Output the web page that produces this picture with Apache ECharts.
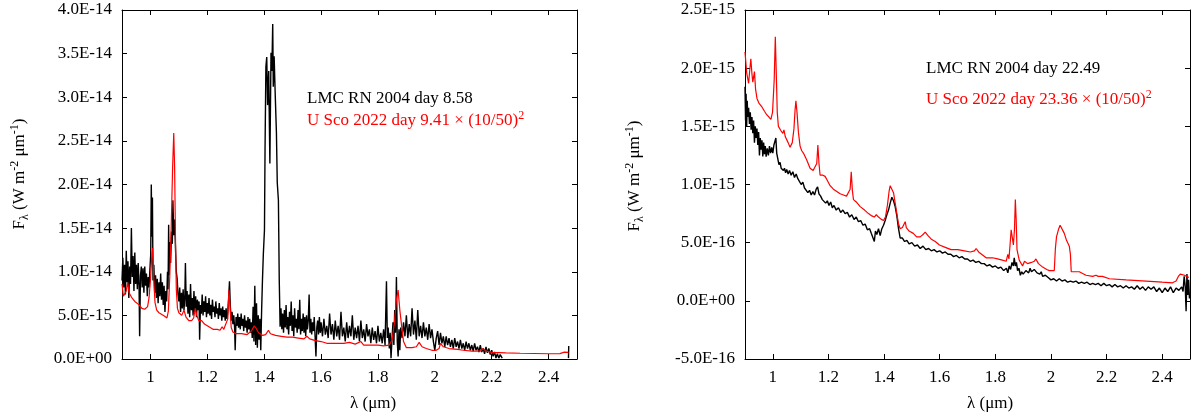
<!DOCTYPE html>
<html>
<head>
<meta charset="utf-8">
<script src="https://cdn.jsdelivr.net/npm/echarts@6/dist/echarts.min.js"></script>
<style>
  html, body { margin: 0; padding: 0; background: #fff; }
  #chart { width: 1194px; height: 417px; }
</style>
</head>
<body>
<div id="chart"></div>
<script>
// wavelengths in micron, fluxes in units of 1e-15 W m^-2 um^-1
const xTicks = [1, 1.2, 1.4, 1.6, 1.8, 2, 2.2, 2.4]

// left panel: LMC RN 2004 day 8.58
const lmcDay858 = [
  [0.900,9.0],[0.903,11.6],[0.906,8.2],[0.909,10.8],[0.912,7.4],[0.915,12.4],[0.918,8.8],[0.921,11.2],[0.924,7.0],[0.927,10.6],
  [0.930,8.6],[0.933,15.0],[0.936,9.4],[0.939,11.8],[0.942,7.8],[0.945,12.2],[0.948,8.6],[0.951,10.8],[0.954,8.0],[0.957,11.0],
  [0.960,8.4],[0.962,2.6],[0.965,9.6],[0.968,10.6],[0.971,8.2],[0.974,10.4],[0.977,7.6],[0.980,10.6],[0.983,8.4],[0.986,9.8],
  [0.989,7.2],[0.992,9.4],[0.995,8.2],[0.998,10.2],[1.001,12.0],[1.003,20.0],[1.005,14.0],[1.007,18.5],[1.009,9.0],[1.012,10.8],
  [1.015,7.6],[1.018,9.6],[1.021,7.0],[1.024,9.2],[1.027,6.4],[1.030,8.8],[1.033,7.2],[1.036,9.8],[1.039,6.8],[1.042,8.8],
  [1.045,6.2],[1.048,8.4],[1.051,5.4],[1.054,7.8],[1.057,6.6],[1.060,10.0],[1.062,8.0],[1.064,15.4],[1.066,9.6],[1.068,13.4],
  [1.071,11.0],[1.074,14.6],[1.077,13.2],[1.079,18.2],[1.082,14.2],[1.085,16.0],[1.088,12.8],[1.091,10.0],[1.094,9.2],[1.097,7.4],
  [1.100,6.6],[1.103,8.2],[1.106,5.4],[1.109,7.6],[1.112,5.8],[1.115,8.0],[1.118,5.6],[1.121,7.2],[1.123,11.0],[1.126,6.0],
  [1.129,7.8],[1.132,5.2],[1.135,7.4],[1.138,4.8],[1.141,8.6],[1.144,5.6],[1.147,7.0],[1.150,5.0],[1.153,7.8],[1.156,5.4],
  [1.159,7.2],[1.162,4.8],[1.165,6.8],[1.168,5.6],[1.171,6.6],[1.173,2.2],[1.176,6.2],[1.179,5.2],[1.182,7.4],[1.185,5.0],
  [1.188,6.6],[1.191,5.4],[1.194,7.2],[1.197,4.8],[1.200,6.4],[1.203,5.2],[1.206,7.0],[1.209,5.0],[1.212,6.2],[1.215,4.6],
  [1.218,6.8],[1.221,5.4],[1.224,6.0],[1.227,4.8],[1.230,6.6],[1.233,5.2],[1.236,5.8],[1.239,4.6],[1.242,6.4],[1.245,5.0],
  [1.248,5.8],[1.251,4.4],[1.254,6.0],[1.257,4.8],[1.260,5.6],[1.263,4.4],[1.266,5.8],[1.269,4.6],[1.272,5.4],[1.275,7.0],
  [1.278,8.9],[1.281,6.0],[1.284,4.4],[1.287,5.4],[1.290,4.0],[1.293,5.0],[1.296,3.6],[1.298,1.0],[1.301,4.8],[1.304,3.8],
  [1.307,5.2],[1.310,3.6],[1.313,4.8],[1.316,3.4],[1.319,5.2],[1.322,3.8],[1.325,4.6],[1.328,3.2],[1.331,5.0],[1.334,3.6],
  [1.337,4.4],[1.340,3.0],[1.343,4.8],[1.346,3.4],[1.349,4.6],[1.352,3.0],[1.355,4.2],[1.358,2.4],[1.361,6.0],[1.364,2.0],
  [1.367,8.4],[1.370,1.6],[1.373,6.4],[1.376,1.3],[1.379,5.0],[1.382,2.2],[1.385,4.6],[1.388,1.0],[1.391,5.6],[1.394,9.1],
  [1.397,12.0],[1.401,14.8],[1.403,24.0],[1.406,33.5],[1.409,34.6],[1.412,29.1],[1.416,33.0],[1.420,22.4],[1.424,35.1],[1.427,33.0],
  [1.430,38.4],[1.432,31.2],[1.435,34.7],[1.439,30.1],[1.443,26.0],[1.446,20.2],[1.450,18.2],[1.453,9.0],[1.456,3.7],[1.459,5.8],
  [1.462,3.4],[1.465,5.2],[1.468,3.0],[1.471,5.6],[1.474,3.6],[1.477,6.2],[1.480,3.4],[1.483,4.8],[1.486,2.8],[1.489,5.4],
  [1.492,3.8],[1.495,6.6],[1.498,3.2],[1.501,5.0],[1.504,2.6],[1.507,5.8],[1.510,3.6],[1.513,4.6],[1.516,3.0],[1.519,5.6],
  [1.522,3.4],[1.525,6.8],[1.528,2.8],[1.531,4.6],[1.534,3.2],[1.537,5.2],[1.540,3.0],[1.543,4.8],[1.546,2.6],[1.549,5.0],
  [1.552,3.4],[1.555,4.4],[1.558,7.4],[1.561,3.0],[1.564,4.6],[1.567,2.8],[1.570,4.2],[1.573,3.2],[1.576,4.8],[1.579,2.6],
  [1.582,0.3],[1.585,3.6],[1.588,4.4],[1.591,2.8],[1.594,4.8],[1.597,3.0],[1.600,4.2],[1.605,2.6],[1.610,4.6],[1.615,2.8],
  [1.620,3.8],[1.625,2.4],[1.630,5.2],[1.635,2.8],[1.640,4.0],[1.645,2.2],[1.650,4.4],[1.655,2.6],[1.660,3.8],[1.665,2.2],
  [1.670,5.4],[1.675,2.6],[1.680,3.6],[1.685,2.0],[1.690,4.2],[1.695,2.4],[1.700,3.8],[1.705,2.6],[1.710,5.0],[1.715,2.2],
  [1.720,3.6],[1.725,2.4],[1.730,3.8],[1.735,2.0],[1.740,4.4],[1.745,2.4],[1.750,3.4],[1.755,2.0],[1.760,4.0],[1.765,2.6],
  [1.770,3.4],[1.775,1.8],[1.780,3.6],[1.785,2.2],[1.790,3.2],[1.795,1.8],[1.800,3.8],[1.805,2.0],[1.810,3.0],[1.815,1.8],
  [1.820,3.4],[1.825,1.6],[1.830,8.9],[1.833,2.4],[1.836,3.6],[1.840,1.2],[1.843,3.0],[1.846,0.1],[1.850,2.6],[1.853,4.2],
  [1.856,1.6],[1.859,5.6],[1.862,3.0],[1.865,9.4],[1.868,2.0],[1.871,0.3],[1.874,3.4],[1.877,1.0],[1.880,3.6],[1.885,2.4],
  [1.890,4.2],[1.895,2.6],[1.900,5.0],[1.905,2.4],[1.910,4.0],[1.915,2.6],[1.920,5.8],[1.925,2.8],[1.930,4.4],[1.935,2.2],
  [1.940,5.6],[1.945,2.6],[1.950,3.8],[1.955,2.4],[1.960,4.2],[1.965,2.6],[1.970,3.6],[1.975,2.2],[1.980,4.0],[1.985,2.4],
  [1.990,3.4],[1.995,2.0],[2.000,1.0],[2.005,2.4],[2.010,3.2],[2.015,1.6],[2.020,3.0],[2.025,1.8],[2.030,2.6],[2.035,1.4],
  [2.040,2.6],[2.045,1.6],[2.050,2.4],[2.055,1.4],[2.060,2.2],[2.065,1.2],[2.070,2.4],[2.075,1.4],[2.080,2.0],[2.085,1.2],
  [2.090,2.2],[2.095,1.2],[2.100,1.8],[2.105,1.0],[2.110,2.0],[2.115,1.2],[2.120,1.8],[2.125,1.0],[2.130,1.6],[2.135,0.9],
  [2.140,1.8],[2.145,1.0],[2.150,1.4],[2.155,0.8],[2.160,1.6],[2.165,0.8],[2.170,1.2],[2.175,0.6],[2.180,1.4],[2.185,0.7],
  [2.190,1.2],[2.195,0.5],[2.200,1.0],[2.205,0.3],[2.210,0.8],[2.215,0.1],[2.220,0.6],[2.225,0.1],[2.230,0.5],[2.237,0.1],
  [2.350,'-'],[2.470,0.1],[2.471,1.5]
]

// left panel: U Sco 2022 day 9.41, scaled by (10/50)^2
const usco941 = [
  [0.900,8.6],[0.905,7.2],[0.910,7.0],[0.915,7.8],[0.920,8.8],[0.925,7.6],[0.930,7.4],[0.935,7.0],[0.940,7.2],[0.945,6.6],
  [0.950,6.4],[0.960,6.2],[0.970,5.8],[0.980,5.7],[0.990,6.0],[0.995,7.0],[1.000,9.0],[1.005,12.0],[1.008,12.7],[1.012,9.0],
  [1.016,6.5],[1.022,5.6],[1.030,5.3],[1.040,5.1],[1.050,4.9],[1.058,4.7],[1.063,5.5],[1.068,9.5],[1.073,15.0],[1.078,22.0],
  [1.082,25.9],[1.085,22.0],[1.088,14.0],[1.091,8.0],[1.095,5.8],[1.100,5.3],[1.110,5.0],[1.118,5.6],[1.125,4.8],[1.135,4.4],
  [1.145,4.4],[1.152,4.7],[1.158,5.8],[1.163,5.0],[1.170,4.4],[1.180,4.4],[1.190,4.0],[1.200,3.8],[1.210,3.6],[1.220,3.4],
  [1.235,3.4],[1.245,3.3],[1.252,3.7],[1.258,3.4],[1.265,3.3],[1.272,4.6],[1.276,7.9],[1.280,6.0],[1.284,3.6],[1.290,3.1],
  [1.300,2.9],[1.320,2.9],[1.340,2.8],[1.355,3.2],[1.365,3.8],[1.372,3.5],[1.380,3.0],[1.395,2.7],[1.405,2.8],[1.415,3.3],
  [1.422,2.9],[1.440,2.7],[1.460,2.6],[1.480,2.5],[1.500,2.5],[1.520,2.4],[1.540,2.3],[1.550,2.6],[1.560,2.3],[1.580,2.1],
  [1.600,2.0],[1.620,1.8],[1.650,1.8],[1.680,1.8],[1.700,1.9],[1.720,1.7],[1.740,2.0],[1.750,1.6],[1.780,1.6],[1.800,1.6],
  [1.820,1.5],[1.840,1.6],[1.850,2.2],[1.858,4.2],[1.865,6.8],[1.871,7.9],[1.877,5.6],[1.884,3.6],[1.890,2.0],[1.900,1.3],
  [1.920,1.3],[1.935,1.4],[1.945,1.9],[1.955,1.4],[1.970,1.2],[1.990,1.0],[2.005,1.0],[2.015,1.2],[2.020,1.8],[2.030,1.4],
  [2.050,1.2],[2.080,1.1],[2.100,1.0],[2.130,0.9],[2.160,0.9],[2.170,1.2],[2.180,0.9],[2.200,0.75],[2.250,0.7],[2.300,0.66],
  [2.350,0.63],[2.400,0.6],[2.440,0.62],[2.455,0.78],[2.462,0.9],[2.470,0.75]
]

// right panel: LMC RN 2004 day 22.49
const lmcDay2249 = [
  [0.900,1.84],[0.902,1.55],[0.904,1.78],[0.906,1.50],[0.908,1.72],[0.910,1.58],[0.913,1.66],[0.916,1.52],[0.919,1.62],[0.922,1.47],
  [0.925,1.58],[0.928,1.44],[0.931,1.55],[0.934,1.36],[0.937,1.50],[0.940,1.40],[0.943,1.48],[0.946,1.34],[0.949,1.45],[0.952,1.25],
  [0.955,1.40],[0.958,1.30],[0.961,1.38],[0.964,1.24],[0.967,1.36],[0.970,1.26],[0.973,1.33],[0.976,1.24],[0.980,1.31],[0.984,1.25],
  [0.988,1.33],[0.992,1.27],[0.996,1.32],[1.000,1.27],[1.004,1.34],[1.008,1.35],[1.011,1.40],[1.014,1.27],[1.018,1.22],[1.022,1.17],
  [1.026,1.19],[1.030,1.14],[1.034,1.15],[1.038,1.12],[1.042,1.14],[1.046,1.10],[1.050,1.13],[1.055,1.09],[1.060,1.12],[1.066,1.08],
  [1.072,1.11],[1.078,1.06],[1.084,1.09],[1.090,1.05],[1.096,1.06],[1.102,1.00],[1.108,1.02],[1.114,0.97],[1.120,0.98],[1.126,0.93],
  [1.132,0.95],[1.138,0.91],[1.144,0.94],[1.150,0.91],[1.156,0.96],[1.161,0.98],[1.166,0.92],[1.172,0.90],[1.178,0.87],[1.184,0.88],
  [1.190,0.84],[1.196,0.86],[1.202,0.82],[1.208,0.85],[1.214,0.80],[1.220,0.82],[1.228,0.78],[1.236,0.80],[1.244,0.76],[1.252,0.78],
  [1.260,0.75],[1.268,0.76],[1.276,0.72],[1.284,0.74],[1.292,0.70],[1.300,0.72],[1.308,0.68],[1.316,0.69],[1.324,0.65],[1.332,0.66],
  [1.340,0.61],[1.348,0.62],[1.354,0.58],[1.360,0.57],[1.365,0.51],[1.369,0.60],[1.374,0.57],[1.380,0.62],[1.386,0.56],[1.392,0.62],
  [1.398,0.65],[1.404,0.69],[1.410,0.74],[1.416,0.78],[1.422,0.84],[1.428,0.89],[1.434,0.86],[1.440,0.81],[1.446,0.73],[1.452,0.62],
  [1.458,0.54],[1.466,0.54],[1.474,0.51],[1.482,0.52],[1.490,0.49],[1.500,0.50],[1.510,0.47],[1.520,0.48],[1.530,0.45],[1.540,0.47],
  [1.550,0.44],[1.560,0.45],[1.570,0.43],[1.580,0.44],[1.590,0.42],[1.600,0.43],[1.610,0.41],[1.620,0.42],[1.630,0.40],[1.640,0.40],
  [1.650,0.38],[1.660,0.39],[1.670,0.37],[1.680,0.38],[1.690,0.36],[1.700,0.36],[1.710,0.34],[1.720,0.35],[1.730,0.33],[1.740,0.34],
  [1.750,0.32],[1.760,0.32],[1.770,0.30],[1.780,0.31],[1.790,0.29],[1.800,0.30],[1.810,0.28],[1.820,0.29],[1.830,0.26],[1.840,0.28],
  [1.845,0.24],[1.850,0.30],[1.855,0.27],[1.860,0.33],[1.865,0.30],[1.868,0.37],[1.872,0.30],[1.876,0.33],[1.880,0.26],[1.885,0.28],
  [1.890,0.22],[1.895,0.25],[1.900,0.23],[1.910,0.26],[1.920,0.24],[1.925,0.28],[1.930,0.25],[1.940,0.27],[1.950,0.24],[1.960,0.23],
  [1.965,0.25],[1.970,0.21],[1.980,0.22],[1.990,0.20],[2.000,0.18],[2.010,0.19],[2.020,0.17],[2.030,0.19],[2.040,0.17],[2.050,0.18],
  [2.060,0.16],[2.070,0.17],[2.080,0.16],[2.090,0.17],[2.100,0.15],[2.110,0.16],[2.120,0.15],[2.130,0.16],[2.140,0.14],[2.150,0.15],
  [2.160,0.14],[2.170,0.15],[2.180,0.13],[2.190,0.15],[2.200,0.13],[2.210,0.14],[2.220,0.12],[2.230,0.14],[2.240,0.12],[2.250,0.13],
  [2.260,0.11],[2.270,0.13],[2.280,0.11],[2.290,0.12],[2.300,0.10],[2.310,0.13],[2.320,0.10],[2.330,0.12],[2.340,0.09],[2.350,0.12],
  [2.360,0.10],[2.370,0.12],[2.380,0.08],[2.390,0.11],[2.400,0.07],[2.410,0.11],[2.420,0.08],[2.430,0.12],[2.440,0.07],[2.450,0.11],
  [2.460,0.09],[2.470,0.12],[2.475,0.08],[2.479,0.21],[2.483,0.12],[2.486,-0.09],[2.489,0.23],[2.492,0.05],[2.495,0.18],[2.498,0.02]
]

// right panel: U Sco 2022 day 23.36, scaled by (10/50)^2
const usco2336 = [
  [0.900,2.14],[0.906,1.96],[0.913,1.87],[0.917,1.98],[0.921,2.08],[0.925,1.95],[0.928,1.88],[0.934,1.97],[0.938,1.82],[0.943,1.74],
  [0.950,1.70],[0.960,1.67],[0.970,1.63],[0.978,1.60],[0.986,1.58],[0.993,1.56],[0.999,1.62],[1.005,1.90],[1.009,2.27],[1.012,2.00],
  [1.016,1.62],[1.020,1.50],[1.030,1.46],[1.036,1.44],[1.040,1.47],[1.045,1.41],[1.055,1.36],[1.062,1.32],[1.070,1.36],[1.076,1.48],
  [1.080,1.64],[1.083,1.72],[1.087,1.62],[1.092,1.45],[1.098,1.33],[1.104,1.29],[1.110,1.27],[1.116,1.28],[1.122,1.21],[1.134,1.14],
  [1.145,1.12],[1.152,1.11],[1.158,1.18],[1.162,1.34],[1.166,1.18],[1.170,1.08],[1.180,1.08],[1.188,1.07],[1.197,1.03],[1.206,0.99],
  [1.218,0.96],[1.230,0.94],[1.242,0.92],[1.254,0.91],[1.265,0.90],[1.272,0.90],[1.278,0.96],[1.282,1.11],[1.286,0.95],[1.290,0.87],
  [1.300,0.85],[1.314,0.81],[1.330,0.78],[1.344,0.75],[1.356,0.73],[1.365,0.72],[1.372,0.74],[1.380,0.72],[1.390,0.70],[1.398,0.69],
  [1.405,0.72],[1.412,0.82],[1.418,0.94],[1.422,0.99],[1.428,0.98],[1.434,0.93],[1.440,0.84],[1.446,0.75],[1.452,0.66],[1.458,0.62],
  [1.466,0.63],[1.472,0.64],[1.476,0.68],[1.480,0.63],[1.490,0.60],[1.505,0.58],[1.517,0.55],[1.530,0.55],[1.540,0.57],[1.548,0.59],
  [1.558,0.56],[1.570,0.53],[1.584,0.51],[1.599,0.48],[1.620,0.46],[1.641,0.44],[1.665,0.44],[1.689,0.43],[1.710,0.42],[1.725,0.43],
  [1.731,0.45],[1.740,0.42],[1.767,0.37],[1.790,0.37],[1.808,0.36],[1.825,0.35],[1.839,0.34],[1.845,0.40],[1.849,0.36],[1.853,0.48],
  [1.857,0.61],[1.861,0.60],[1.865,0.48],[1.869,0.62],[1.872,0.87],[1.875,0.70],[1.878,0.44],[1.886,0.35],[1.898,0.30],[1.905,0.34],
  [1.916,0.32],[1.930,0.33],[1.940,0.34],[1.946,0.36],[1.955,0.32],[1.970,0.29],[1.985,0.27],[1.994,0.26],[2.012,0.26],[2.016,0.45],
  [2.020,0.55],[2.028,0.62],[2.033,0.65],[2.040,0.64],[2.048,0.58],[2.056,0.52],[2.066,0.47],[2.070,0.40],[2.073,0.25],[2.090,0.25],
  [2.102,0.25],[2.126,0.22],[2.150,0.21],[2.162,0.22],[2.170,0.21],[2.185,0.21],[2.210,0.19],[2.270,0.18],[2.342,0.17],[2.400,0.16],
  [2.437,0.155],[2.450,0.17],[2.458,0.21],[2.465,0.23],[2.480,0.22],[2.488,0.21],[2.496,0.20]
]

const FONT = "'Liberation Serif', 'Times New Roman', serif"
const FS = 17

// 4.0E-14 style labels, values are in 1e-15 units
function sciLabel(v) {
    const x = v * 1e-15
    if (Math.abs(x) < 1e-30) return '0.0E+00'
    let e = Math.floor(Math.log10(Math.abs(x)) + 1e-9)
    let m = x / Math.pow(10, e)
    const sign = e < 0 ? '-' : '+'
    const ae = Math.abs(e)
    return m.toFixed(1) + 'E' + sign + (ae < 10 ? '0' + ae : ae)
}

const rich = {
    n: { fontFamily: FONT, fontSize: FS, lineHeight: 22, verticalAlign: 'middle' },
    sub: { fontFamily: FONT, fontSize: 12, lineHeight: 12, verticalAlign: 'bottom' },
    sup: { fontFamily: FONT, fontSize: 12, lineHeight: 12, verticalAlign: 'top' }
}
function richColor(c) {
    const r = {}
    for (const k in rich) r[k] = Object.assign({}, rich[k], { color: c })
    return r
}

function xAxes(grid) {
    const common = {
        type: 'value', gridIndex: grid, min: 0.9, max: 2.5,
        splitLine: { show: false },
        axisLine: { show: true, onZero: false, lineStyle: { color: '#000', width: 1 } }
    }
    return [
        Object.assign({}, common, {
            position: 'bottom',
            axisTick: { inside: true, length: 5, customValues: xTicks, lineStyle: { color: '#000' } },
            axisLabel: { customValues: xTicks, color: '#000', fontFamily: FONT, fontSize: FS, margin: 10,
                formatter: v => String(+(+v).toFixed(1)) }
        }),
        Object.assign({}, common, {
            position: 'top',
            axisTick: { inside: true, length: 5, customValues: xTicks, lineStyle: { color: '#000' } },
            axisLabel: { show: false }
        })
    ]
}
function yAxes(grid, min, max, step) {
    const common = {
        type: 'value', gridIndex: grid, min: min, max: max, interval: step,
        splitLine: { show: false },
        axisLine: { show: true, onZero: false, lineStyle: { color: '#000', width: 1 } },
        axisTick: { inside: true, length: 5, lineStyle: { color: '#000' } }
    }
    return [
        Object.assign({}, common, {
            position: 'left',
            axisLabel: { color: '#000', fontFamily: FONT, fontSize: FS, margin: 10, formatter: sciLabel }
        }),
        Object.assign({}, common, { position: 'right', axisLabel: { show: false } })
    ]
}

function spectrum(data, color, width, xi, yi) {
    return {
        type: 'line', data: data, xAxisIndex: xi, yAxisIndex: yi,
        showSymbol: false, symbol: 'none', connectNulls: false,
        lineStyle: { color: color, width: width }, clip: true, z: color === '#ff0000' ? 3 : 2
    }
}

function label(x, y, text, color, rot) {
    return {
        type: 'text', x: x, y: y, rotation: rot || 0,
        style: { text: text, rich: richColor(color), fill: color, font: FS + 'px ' + FONT,
            textAlign: rot ? 'center' : 'left', textVerticalAlign: 'middle' }
    }
}
const yName = '{n|F}{sub|λ}{n| (W m}{sup|-2}{n| μm}{sup|-1}{n|)}'
const xName = '{n|λ (μm)}'

const chart = echarts.init(document.getElementById('chart'))
chart.setOption({
    backgroundColor: '#fff',
    animation: false,
    grid: [
        { left: 122, top: 10, width: 455, height: 349 },
        { left: 745, top: 10, width: 445, height: 349 }
    ],
    xAxis: xAxes(0).concat(xAxes(1)),
    yAxis: yAxes(0, 0, 40, 5).concat(yAxes(1, -0.5, 2.5, 0.5)),
    series: [
        spectrum(lmcDay858, '#000000', 1.4, 0, 0),
        spectrum(usco941, '#ff0000', 1.2, 0, 0),
        spectrum(lmcDay2249, '#000000', 1.4, 2, 2),
        spectrum(usco2336, '#ff0000', 1.2, 2, 2)
    ],
    graphic: [
        label(20, 174, yName, '#000', Math.PI / 2),
        label(635, 176, yName, '#000', Math.PI / 2),
        Object.assign(label(350, 404, xName, '#000'), {}),
        Object.assign(label(967, 404, xName, '#000'), {}),
        label(307, 99, '{n|LMC RN 2004 day 8.58}', '#000'),
        label(307, 121, '{n|U Sco 2022 day 9.41 × (10/50)}{sup|2}', '#ff0000'),
        label(926, 69, '{n|LMC RN 2004 day 22.49}', '#000'),
        label(926, 100, '{n|U Sco 2022 day 23.36 × (10/50)}{sup|2}', '#ff0000')
    ]
})
</script>
</body>
</html>
